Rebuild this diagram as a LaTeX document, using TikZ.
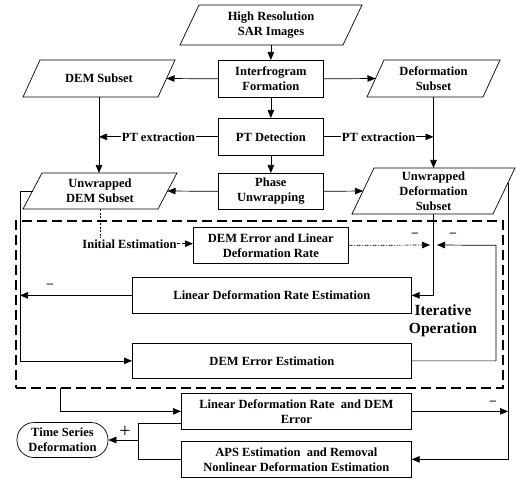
\documentclass[tikz,border=0pt]{standalone}
\usepackage{fontspec}
\setmainfont{Liberation Serif}
\usetikzlibrary{arrows.meta,calc}
\newcommand{\pgram}[7]{%
  \coordinate (#1-bl) at (#2,#5);
  \coordinate (#1-br) at (#3,#5);
  \coordinate (#1-tr) at (#3+#6,#4);
  \coordinate (#1-tl) at (#2+#6,#4);
  \draw[ln] (#1-bl)--(#1-br)--(#1-tr)--(#1-tl)--cycle;
  \node (#1) at ($(#1-bl)!.5!(#1-tr)$) {#7};
  \coordinate (#1-e) at ($(#1-br)!.5!(#1-tr)$);
  \coordinate (#1-w) at ($(#1-bl)!.5!(#1-tl)$);
}
\begin{document}
\begin{tikzpicture}[x=1pt,y=-1pt,
  every node/.style={font=\bfseries\fontsize{12.5}{15}\selectfont, align=center, inner sep=0pt},
  ln/.style={line width=0.7pt},
  arr/.style={ln,-{Triangle[length=8pt,width=6.5pt]}},
  box/.style={draw,ln,anchor=north west},
  sign/.style={font=\bfseries\fontsize{12.5}{15}\selectfont}]
\useasboundingbox (0,0) rectangle (526,478);

% parallelograms
\pgram{sar}{180}{343}{5}{45}{19}{High Resolution\\SAR Images}
\pgram{dem}{23}{158}{60}{97}{17}{DEM Subset}
\pgram{defs}{367}{483}{60}{97}{17}{Deformation\\Subset}
\pgram{udem}{23}{158}{173}{209}{19}{Unwrapped\\DEM Subset}
\pgram{udef}{352}{493}{168}{214}{22}{Unwrapped\\Deformation\\Subset}

% boxes
\node[box, minimum width=105, minimum height=37] (inter) at (218,60) {Interfrogram\\Formation};
\node[box, minimum width=105, minimum height=37] (ptd) at (218,118) {PT Detection};
\node[box, minimum width=105, minimum height=36] (pu) at (218,173) {Phase\\Unwrapping};
\node[box, minimum width=155, minimum height=36] (dlr) at (193,227) {DEM Error and Linear\\Deformation Rate};
\node[box, minimum width=279, minimum height=36] (ldre) at (132,277) {Linear Deformation Rate Estimation};
\node[box, minimum width=279, minimum height=35] (dee) at (132,343) {DEM Error Estimation};
\node[box, minimum width=230, minimum height=36] (ldr) at (181,393) {Linear Deformation Rate\ \ and DEM\\Error};
\node[box, minimum width=230, minimum height=36] (aps) at (181,441) {APS Estimation\ \ and Removal\\Nonlinear Deformation Estimation};
\node[draw, ln, rounded corners=17pt, minimum width=91, minimum height=35] (tsd) at (62.5,440) {Time Series\\Deformation};

% dashed iteration frame
\node[draw, line width=2.2pt, dash pattern=on 10pt off 5pt, anchor=north west,
      minimum width=487, minimum height=167, outer sep=0pt] (iter) at (16,221) {};
\node[font=\bfseries\fontsize{15.5}{18}\selectfont] (itl) at (443,321) {Iterative\\Operation};

% helper coordinates
\coordinate (L) at (20,0);
\coordinate (R) at (508,0);
\coordinate (R2) at (496,0);
\coordinate (B) at (60,0);
\coordinate (K) at (138,0);
\coordinate (rs) at ($(udef-tr)!0.318!(udef-br)$);
\coordinate (jl) at (430,245);
\coordinate (jr) at (437,245);
\coordinate (bt) at ($(ldr.south west)+(0,-6)$);

% top part
\draw[arr] (inter.north |- sar-bl) -- (inter.north);
\draw[arr] (inter.west) -- (dem-e);
\draw[arr] (inter.east) -- (defs-w);
\draw[arr] (inter.south) -- (ptd.north);
\draw[arr] (ptd.south) -- (pu.north);
\draw[arr] (dem |- dem-bl) -- (dem |- udem-tl);
\draw[arr] (defs |- defs-bl) -- (defs |- udef-tl);
\draw[arr] (ptd.west) -- node[fill=white, inner xsep=1pt, inner ysep=2pt] {PT extraction} (ptd.west -| dem);
\draw[arr] (ptd.east) -- node[fill=white, inner xsep=1pt, inner ysep=2pt] {PT extraction} (ptd.east -| defs);
\draw[arr] (pu.west) -- (udem-e);
\draw[arr] (pu.east) -- (udef-w);

% initial estimation
\node[anchor=base] (ie) at (129.5,248) {Initial Estimation};
\draw[ln, dash pattern=on 2pt off 1.5pt] (udem |- udem-bl) -- ([yshift=2pt]udem |- ie.north);
\draw[arr, dash pattern=on 3pt off 2pt] (ie.east) -- (ie.east -| dlr.west);

% iteration loops
\draw[arr, dash pattern=on 4pt off 1.5pt on 1pt off 1.5pt] (dlr.east) -- (jl);
\draw[arr] (defs |- udef-bl) |- (ldre.east);
\draw[arr] (dee.east) -| (R2 |- dlr.east) -- (jr);
\draw[arr] (ldre.west) -- (ldre.west -| L);
\draw[arr] (udem-w) -- (udem-w -| L) |- (dee.west);

% bottom part
\draw[arr] (iter.south -| B) |- (ldr.west);
\draw[arr] (ldr.east) -- (ldr.east -| R);
\draw[arr] (rs) |- (aps.east);
\draw[ln] (bt) -| (K |- aps.west) -- (aps.west);
\draw[arr] (K |- tsd.east) -- (tsd.east);

% signs
\node[sign] (m1) at (415,235) {–};
\node[sign] (m2) at (453,235) {–};
\node[sign] (m3) at (50,286) {–};
\node[sign] (m4) at (493,403) {–};
\node[font=\mdseries\fontsize{20}{20}\selectfont] (p1) at (125,432) {+};
\end{tikzpicture}
\end{document}
